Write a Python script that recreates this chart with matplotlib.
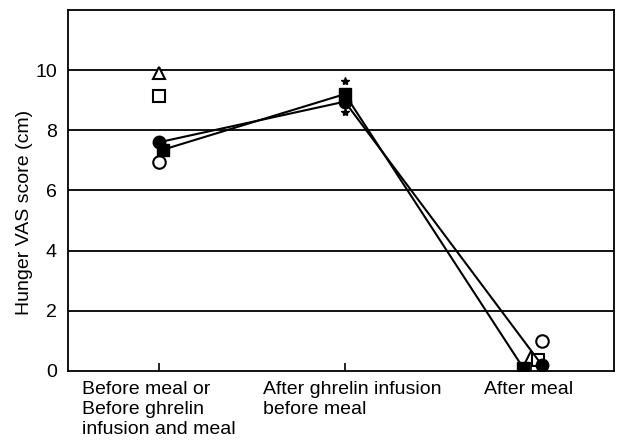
import matplotlib
matplotlib.use("Agg")
import matplotlib.pyplot as plt

plt.rcParams['font.family'] = ['Liberation Sans', 'DejaVu Sans']

categories = ["Before meal or\nBefore ghrelin\ninfusion and meal",
              "After ghrelin infusion\nbefore meal",
              "After meal"]
x_pos = [0, 1, 2]
label_shift = [-0.415, -0.44, -0.253]

# connected series (filled markers)
filled_circle = [7.6, 8.95, 0.2]
filled_square = [7.35, 9.2, 0.1]
filled_circle_x = [0, 1, 2.06]
filled_square_x = [0.02, 1, 1.96]

# unconnected open-marker points (x, y)
open_circle_x = [0, 2.06]
open_circle = [6.95, 1.0]
open_triangle_x = [0, 2.0]
open_triangle = [9.9, 0.45]
open_square_x = [0, 2.04]
open_square = [9.15, 0.35]

stars_x = [1, 1]
stars_y = [9.65, 8.6]

fig = plt.figure(figsize=(6.23, 4.48), dpi=100)
ax = fig.add_axes([0.109, 0.172, 0.877, 0.806])

for y in [2, 4, 6, 8, 10]:
    ax.axhline(y, color='black', lw=1.3, zorder=1)

ax.plot(filled_circle_x, filled_circle, color='black', lw=1.5, marker='o', ms=9, zorder=3)
ax.plot(filled_square_x, filled_square, color='black', lw=1.5, marker='s', ms=8, zorder=3)
ax.plot(open_circle_x, open_circle, ls='none', marker='o', ms=9, mfc='white', mec='black', mew=1.5, zorder=2)
ax.plot(open_triangle_x, open_triangle, ls='none', marker='^', ms=8, mfc='white', mec='black', mew=1.5, zorder=2)
ax.plot(open_square_x, open_square, ls='none', marker='s', ms=8, mfc='white', mec='black', mew=1.5, zorder=2)
ax.plot(stars_x, stars_y, ls='none', marker='*', ms=6, color='black', zorder=3)

ax.set_xlim(-0.49, 2.45)
ax.set_ylim(0, 12)
ax.set_yticks([0, 2, 4, 6, 8, 10])
ax.set_xticks(x_pos)
ax.set_xticklabels([])
for xp, sh, lab in zip(x_pos, label_shift, categories):
    ax.text(xp + sh, -0.35, lab, ha='left', va='top', fontsize=14,
            linespacing=1.22, transform=ax.transData, clip_on=False)
ax.tick_params(axis='x', direction='in', length=6, width=1.2, pad=4)
ax.tick_params(axis='y', direction='out', length=0, labelsize=14, pad=8)
ax.set_ylabel("Hunger VAS score (cm)", fontsize=14)
ax.yaxis.set_label_coords(-0.064, 0.44)
for s in ax.spines.values():
    s.set_linewidth(1.3)

fig.savefig("out.png", dpi=100)
